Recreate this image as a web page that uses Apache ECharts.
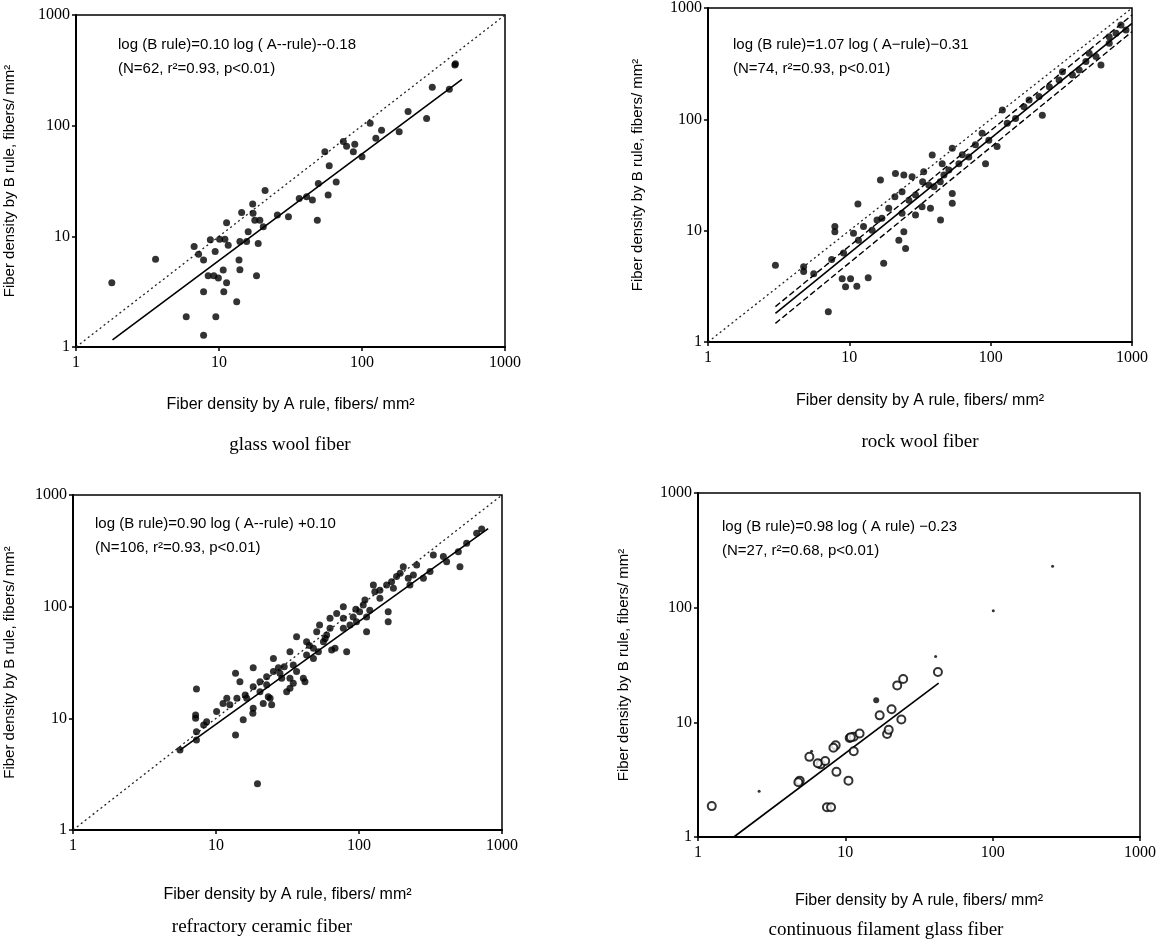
<!DOCTYPE html>
<html><head><meta charset="utf-8">
<script src="https://cdn.jsdelivr.net/npm/echarts@6/dist/echarts.min.js"></script>
<style>html,body{margin:0;padding:0;background:#fff}#c{width:1159px;height:945px}</style>
</head><body><div id="c"></div>
<script>
// ---------- data (A rule density, B rule density) ----------
const tickLabels = ['1', '10', '100', '1000'];
const xTitle = 'Fiber density by A rule, fibers/ mm\u00B2';
const yTitle = 'Fiber density by B rule, fibers/ mm\u00B2';
const captions = ['glass wool fiber', 'rock wool fiber', 'refractory ceramic fiber', 'continuous filament glass fiber'];
const equations = [
  ['log (B rule)=0.10 log ( A--rule)--0.18', '(N=62, r\u00B2=0.93, p<0.01)'],
  ['log (B rule)=1.07 log ( A\u2212rule)\u22120.31', '(N=74, r\u00B2=0.93, p<0.01)'],
  ['log (B rule)=0.90 log ( A--rule) +0.10', '(N=106, r\u00B2=0.93, p<0.01)'],
  ['log (B rule)=0.98 log ( A rule) \u22120.23', '(N=27, r\u00B2=0.68, p<0.01)']
];

const glassWoolPoints = [
  [1.78,3.8],[3.6,6.2],[5.9,1.88],[9.5,1.88],[7.8,1.28],[7.8,3.16],[13.3,2.57],[10.8,3.16],
  [18.3,4.4],[8.4,4.4],[9.2,4.4],[9.9,4.2],[11.3,3.8],[10.7,4.97],[14,5],[13.8,6.1],
  [7.8,6.1],[7.2,6.9],[6.7,8.1],[8.7,9.3],[9.4,7.3],[10.1,9.4],[11,9.4],[11.6,8.3],
  [14,9],[15.6,9],[18.8,8.6],[11.3,13.3],[14.4,16.4],[16,11],[17.3,16.2],[17.8,14],
  [19.3,14],[17.2,19.6],[21,26],[20.4,12.2],[25.6,15.6],[30.6,15],[36.4,22],[41,22.8],
  [45,21.3],[48.7,14],[58,23.6],[49.5,30],[59,43.5],[66,31],[55,58],[74,72],
  [87,58],[89,68],[137,91],[125,77],[114,105],[182,88],[210,134],[283,116],
  [310,222],[408,213],[446,353],[450,363],[100,52.5],[78,65]
];
const glassWoolFit = [[1.8,1.16],[500,262]];

const rockWoolPoints = [
  [3.0,4.9],[4.75,4.75],[4.75,4.3],[7.1,1.87],[8.9,3.7],[10.2,3.7],[9.4,3.14],[11.3,3.17],
  [13.6,3.78],[17.5,5.1],[11.5,17.4],[7.9,10.9],[7.9,9.8],[10.7,9.5],[12.6,10.9],[15.7,12.5],
  [16.6,28.5],[21,20.2],[22.4,8.2],[25,6.9],[24.3,9.8],[21.2,32.7],[24.3,31.6],[27.8,30.5],
  [33.6,33.9],[38.6,47.8],[45.4,40],[46.7,31.6],[53.5,21.6],[44.2,12.5],[32.7,16.4],[29.4,13.8],
  [23.6,14.3],[19,15.9],[26.4,18.8],[36.5,25.7],[39.7,24.8],[50.6,35],[59.6,40],[70,46],
  [92,40],[111,57],[97,65],[53.5,55],[78,59],[121,121],[131,92],[150,102],
  [187,149],[232,109],[220,160],[260,196],[322,268],[379,250],[423,277],[472,330],
  [556,366],[603,308],[690,482],[771,592],[835,703],[906,634],[690,553],[498,392],
  [305,225],[172,130],[87,75],[63,48],[44,27.5],[29.4,20.9],[23.6,22.4],[17,12.9],
  [14.5,10.1],[11.6,8.2],[9.1,6.3],[7.5,5.5],[5.6,4.1],[37.5,15.9],[53.5,17.6],[33,27.5]
];
const rockWoolFit = [[3.0,1.81],[1000,728]];
const rockWoolUpper = [[3.0,2.08],[1000,865]];
const rockWoolLower = [[3.0,1.47],[1000,613]];

const ceramicPoints = [
  [5.6,5.2],[7.3,6.4],[7.3,7.6],[7.2,10],[7.2,10.7],[7.3,18.3],[13.7,7.1],[19.5,2.6],
  [15.5,9.7],[11.2,13.6],[11.9,15.1],[13.7,25.3],[14.7,21.3],[16.4,15.1],[18.2,12.3],[18.1,11.1],
  [18.2,28.4],[18.2,19.2],[20.3,17.3],[22.6,20],[23.9,15.1],[24.5,13.2],[21.4,13.6],[25.2,34.4],
  [28,25.3],[28.8,22.8],[32.9,22.8],[32.9,18.6],[34.7,20.6],[36.6,26.2],[40.8,22.8],[41.9,21.3],
  [36.6,53.9],[43,48.6],[43,36.9],[48,34.4],[52,39.5],[56.4,48.6],[59.4,55.7],[62.7,64],
  [64.4,40.9],[68,42.4],[69.8,87],[77.7,64],[82,39.5],[86.5,68.5],[91,81],[96,73.4],
  [101,90],[107,103.5],[113,81],[113,59.7],[119,93],[77.7,100],[62.7,78.6],[53,68.5],
  [50.6,59.7],[160,90],[160,73.4],[140,119],[129,136],[156,156],[169,167],[174,146],
  [183,186],[194,199],[204,228],[221,180],[240,192],[227,156],[253,236],[282,180],
  [314,206],[331,290],[389,281],[410,253],[508,228],[495,311],[566,369],[721,496],
  [665,454],[126,156],[110,115],[77.7,78.6],[48,42.4],[34.7,30],[27.3,28.4],[25.2,26.2],
  [22.6,23.6],[20.3,21.3],[16,16.2],[14,15.1],[12.5,13.2],[10.1,11.5],[8.6,9.3],[8.2,8.7],
  [32.9,39.5],[31.2,17.3],[23.2,15.6],[95,95],[140,140],[58,52],[45,45],[30,29]
];
const ceramicFit = [[5.6,5.2],[800,500]];

const filamentPoints = [
  [1.24,1.86],[4.9,3.1],[4.8,3.0],[5.7,5.0],[6.8,4.3],[7.3,4.6],[7.5,1.82],[8.0,1.82],
  [8.7,3.7],[8.6,6.3],[8.3,6.0],[10.5,3.1],[10.7,7.3],[11.4,7.5],[11.4,5.6],[12.5,8.0],
  [17.1,11.5],[19.2,7.9],[19.7,8.6],[20.6,13],[24,10.6],[22.5,21],[24.7,23.9],[42.5,27.5],
  [6.5,4.4],[10.9,7.4]
];
const filamentFilled = [[16.2,15.6]];
const filamentSpecks = [[2.6,2.5],[5.9,5.6],[41,37.6],[101,94],[255,230]];
const filamentFit = [[1.75,1.0],[43,22]];

const oneToOne = [[1,1],[1000,1000]];

// ---------- layout ----------
const grids = [
  {left:76, top:15, width:429, height:332},
  {left:708, top:8, width:424, height:334},
  {left:73, top:495, width:429, height:335},
  {left:698, top:493, width:447, height:344}
];
const xGaps = [50, 51, 57, 56];
const yGaps = [59, 63, 56, 67];
const eqPos = [[118,45],[733,45],[95,524],[722,527]];
const capPos = [[290,445],[920,442],[262,927],[886,930]];

const sans = '"Liberation Sans",Arial,sans-serif';
const serif = '"Liberation Serif","Times New Roman",serif';

function xAx(i){
  return {type:'log', logBase:10, min:1, max:1000, gridIndex:i,
    name:xTitle, nameLocation:'middle', nameGap:xGaps[i],
    nameTextStyle:{fontFamily:sans, fontSize:16, color:'#000'},
    axisLine:{show:true, lineStyle:{color:'#000', width:2}},
    axisTick:{show:true, inside:false, length:4, lineStyle:{color:'#000', width:1.5}},
    axisLabel:{fontFamily:serif, fontSize:16, color:'#000', margin:8,
      formatter:(v)=>tickLabels[Math.round(Math.log10(v))]},
    splitLine:{show:false}, minorTick:{show:false}, minorSplitLine:{show:false}};
}
function yAx(i){
  return {type:'log', logBase:10, min:1, max:1000, gridIndex:i,
    name:yTitle, nameLocation:'middle', nameGap:yGaps[i], nameRotate:90,
    nameTextStyle:{fontFamily:sans, fontSize:15, color:'#000'},
    axisLine:{show:true, lineStyle:{color:'#000', width:2}},
    axisTick:{show:true, inside:false, length:4, lineStyle:{color:'#000', width:1.5}},
    axisLabel:{fontFamily:serif, fontSize:16, color:'#000', margin:6,
      formatter:(v)=>tickLabels[Math.round(Math.log10(v))]},
    splitLine:{show:false}, minorTick:{show:false}, minorSplitLine:{show:false}};
}

function dots(i, data, size){
  return {type:'scatter', xAxisIndex:i, yAxisIndex:i, data:data, symbol:'circle',
    symbolSize:size||6, itemStyle:{color:'#000'}, silent:true, z:3};
}
function line(i, data, type, width, color){
  return {type:'line', xAxisIndex:i, yAxisIndex:i, data:data, symbol:'none', silent:true,
    lineStyle:{color:color||'#000', width:width, type:type}, z:2};
}

const graphics = [];
equations.forEach((eq, i)=>{
  graphics.push({type:'text', x:eqPos[i][0], y:eqPos[i][1],
    style:{text:eq[0], font:'15px '+sans, fill:'#000', textVerticalAlign:'middle'}});
  graphics.push({type:'text', x:eqPos[i][0], y:eqPos[i][1]+24,
    style:{text:eq[1], font:'15px '+sans, fill:'#000', textVerticalAlign:'middle'}});
});
captions.forEach((c, i)=>{
  graphics.push({type:'text', x:capPos[i][0], y:capPos[i][1],
    style:{text:c, font:'19px '+serif, fill:'#000', textAlign:'center', textVerticalAlign:'middle'}});
});

const option = {
  animation:false,
  backgroundColor:'#fff',
  grid: grids.map(g=>Object.assign({show:true, borderColor:'#000', borderWidth:1.5, backgroundColor:'transparent'}, g)),
  xAxis: [0,1,2,3].map(xAx),
  yAxis: [0,1,2,3].map(yAx),
  graphic: graphics,
  series: [
    line(0, oneToOne, [2,3], 1.3, '#222'),
    line(0, glassWoolFit, 'solid', 1.6),
    dots(0, glassWoolPoints, 7),

    line(1, oneToOne, [2,3], 1.3, '#222'),
    line(1, rockWoolUpper, [6,3], 1.4),
    line(1, rockWoolFit, 'solid', 1.6),
    line(1, rockWoolLower, [6,3], 1.4),
    dots(1, rockWoolPoints, 7),

    line(2, oneToOne, [2,3], 1.3, '#222'),
    line(2, ceramicFit, 'solid', 1.6),
    dots(2, ceramicPoints, 7),

    line(3, filamentFit, 'solid', 1.6),
    {type:'scatter', xAxisIndex:3, yAxisIndex:3, data:filamentPoints, symbol:'circle', symbolSize:8,
      itemStyle:{color:'#fff', borderColor:'#000', borderWidth:2}, silent:true, z:3},
    dots(3, filamentFilled, 6),
    dots(3, filamentSpecks, 3)
  ]
};
const chart = echarts.init(document.getElementById('c'), null, {renderer:'canvas'});
chart.setOption(option);
</script>
</body></html>
